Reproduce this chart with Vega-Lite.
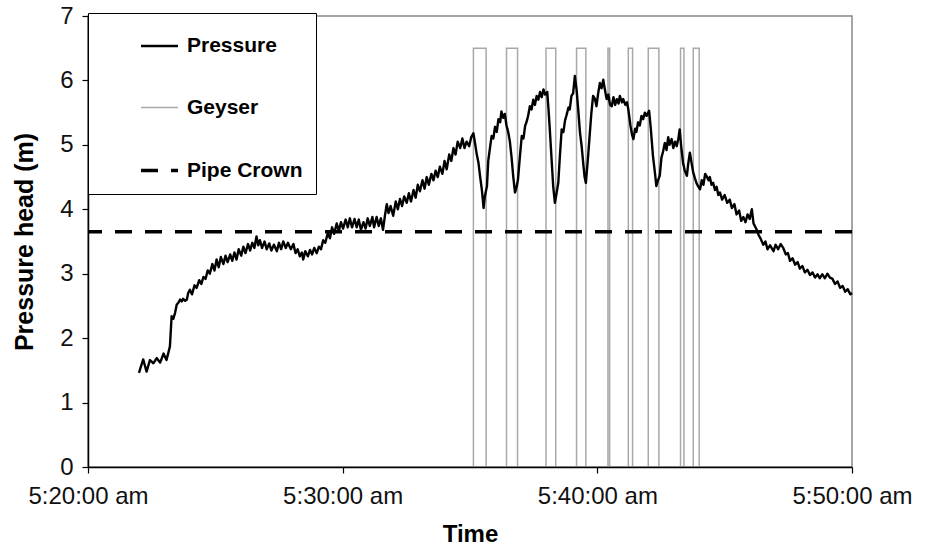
{
  "$schema": "https://vega.github.io/schema/vega-lite/v6.json",
  "width": 764,
  "height": 451,
  "autosize": {"type": "none"},
  "padding": {"left": 88, "top": 16, "right": 73, "bottom": 81},
  "background": "white",
  "config": {
    "font": "Liberation Sans",
    "view": {"stroke": "#888", "strokeWidth": 1.5},
    "axis": {"domainColor": "#000", "domainWidth": 1.5, "tickColor": "#000", "tickWidth": 1.2, "tickSize": 6, "labelColor": "#111", "titleColor": "#000", "grid": false, "labelFont": "Liberation Sans", "titleFont": "Liberation Sans", "titleFontWeight": "bold"}
  },
  "layer": [
    {
      "data": {"values": [
        {"i":0,"t":"05:35:08","g":0},{"i":1,"t":"05:35:08","g":6.5},{"i":2,"t":"05:35:38","g":6.5},{"i":3,"t":"05:35:38","g":0},
        {"i":4,"t":"05:36:26","g":0},{"i":5,"t":"05:36:26","g":6.5},{"i":6,"t":"05:36:52","g":6.5},{"i":7,"t":"05:36:52","g":0},
        {"i":8,"t":"05:37:59","g":0},{"i":9,"t":"05:37:59","g":6.5},{"i":10,"t":"05:38:22","g":6.5},{"i":11,"t":"05:38:22","g":0},
        {"i":12,"t":"05:39:11","g":0},{"i":13,"t":"05:39:11","g":6.5},{"i":14,"t":"05:39:33","g":6.5},{"i":15,"t":"05:39:33","g":0},
        {"i":16,"t":"05:40:25","g":0},{"i":17,"t":"05:40:25","g":6.5},{"i":18,"t":"05:40:29","g":6.5},{"i":19,"t":"05:40:29","g":0},
        {"i":20,"t":"05:41:13","g":0},{"i":21,"t":"05:41:13","g":6.5},{"i":22,"t":"05:41:23","g":6.5},{"i":23,"t":"05:41:23","g":0},
        {"i":24,"t":"05:42:00","g":0},{"i":25,"t":"05:42:00","g":6.5},{"i":26,"t":"05:42:25","g":6.5},{"i":27,"t":"05:42:25","g":0},
        {"i":28,"t":"05:43:16","g":0},{"i":29,"t":"05:43:16","g":6.5},{"i":30,"t":"05:43:24","g":6.5},{"i":31,"t":"05:43:24","g":0},
        {"i":32,"t":"05:43:46","g":0},{"i":33,"t":"05:43:46","g":6.5},{"i":34,"t":"05:44:00","g":6.5},{"i":35,"t":"05:44:00","g":0}
      ], "format": {"parse": {"t": "date:'%H:%M:%S'"}}},
      "mark": {"type": "line", "interpolate": "linear"},
      "encoding": {
        "x": {
          "field": "t", "type": "temporal",
          "scale": {"domain": [{"year": 1900, "month": 1, "date": 1, "hours": 5, "minutes": 20}, {"year": 1900, "month": 1, "date": 1, "hours": 5, "minutes": 50}]},
          "axis": {
            "title": "Time", "titleFontSize": 24, "titlePadding": 14,
            "values": [{"year": 1900, "month": 1, "date": 1, "hours": 5, "minutes": 20}, {"year": 1900, "month": 1, "date": 1, "hours": 5, "minutes": 30}, {"year": 1900, "month": 1, "date": 1, "hours": 5, "minutes": 40}, {"year": 1900, "month": 1, "date": 1, "hours": 5, "minutes": 50}],
            "labelExpr": "timeFormat(datum.value, '%-I:%M:%S') + ' am'",
            "labelFontSize": 24, "labelPadding": 11, "labelFlush": false, "labelOverlap": false, "zindex": 1
          }
        },
        "y": {"field": "g", "type": "quantitative"},
        "order": {"field": "i", "type": "quantitative"},
        "color": {"datum": "Geyser", "type": "nominal"},
        "strokeDash": {"datum": "Geyser", "type": "nominal"},
        "strokeWidth": {"datum": "Geyser", "type": "nominal"}
      }
    },
    {
      "data": {"values": [
        {"t":"05:22:00","p":1.46},{"t":"05:22:10","p":1.67},{"t":"05:22:18","p":1.48},{"t":"05:22:26","p":1.66},{"t":"05:22:34","p":1.61},{"t":"05:22:42","p":1.69},{"t":"05:22:50","p":1.62},{"t":"05:22:58","p":1.76},{"t":"05:23:05","p":1.66},{"t":"05:23:13","p":1.87},{"t":"05:23:17","p":2.34},{"t":"05:23:21","p":2.30},{"t":"05:23:25","p":2.39},{"t":"05:23:29","p":2.52},{"t":"05:23:33","p":2.55},{"t":"05:23:37","p":2.60},{"t":"05:23:41","p":2.57},{"t":"05:23:44","p":2.61},{"t":"05:23:49","p":2.58},{"t":"05:23:53","p":2.60},{"t":"05:23:56","p":2.70},
        {"t":"05:24:00","p":2.75},{"t":"05:24:05","p":2.68},{"t":"05:24:11","p":2.82},{"t":"05:24:16","p":2.78},{"t":"05:24:22","p":2.90},{"t":"05:24:27","p":2.84},{"t":"05:24:32","p":2.95},{"t":"05:24:37","p":2.92},{"t":"05:24:42","p":3.05},{"t":"05:24:47","p":3.00},{"t":"05:24:53","p":3.15},{"t":"05:24:58","p":3.05},
        {"t":"05:25:03","p":3.22},{"t":"05:25:08","p":3.10},{"t":"05:25:13","p":3.26},{"t":"05:25:19","p":3.15},{"t":"05:25:24","p":3.28},{"t":"05:25:29","p":3.18},{"t":"05:25:35","p":3.30},{"t":"05:25:40","p":3.20},{"t":"05:25:45","p":3.33},{"t":"05:25:50","p":3.22},{"t":"05:25:55","p":3.38},
        {"t":"05:26:01","p":3.28},{"t":"05:26:06","p":3.42},{"t":"05:26:11","p":3.32},{"t":"05:26:17","p":3.46},{"t":"05:26:22","p":3.36},{"t":"05:26:27","p":3.48},{"t":"05:26:32","p":3.40},{"t":"05:26:37","p":3.58},{"t":"05:26:41","p":3.44},{"t":"05:26:45","p":3.52},{"t":"05:26:50","p":3.40},{"t":"05:26:56","p":3.50},
        {"t":"05:27:01","p":3.38},{"t":"05:27:07","p":3.47},{"t":"05:27:12","p":3.36},{"t":"05:27:18","p":3.45},{"t":"05:27:25","p":3.35},{"t":"05:27:30","p":3.48},{"t":"05:27:35","p":3.38},{"t":"05:27:40","p":3.50},{"t":"05:27:46","p":3.40},{"t":"05:27:51","p":3.48},{"t":"05:27:58","p":3.38},
        {"t":"05:28:04","p":3.46},{"t":"05:28:09","p":3.32},{"t":"05:28:14","p":3.38},{"t":"05:28:19","p":3.27},{"t":"05:28:24","p":3.33},{"t":"05:28:27","p":3.22},{"t":"05:28:32","p":3.35},{"t":"05:28:38","p":3.27},{"t":"05:28:43","p":3.37},{"t":"05:28:48","p":3.30},{"t":"05:28:53","p":3.40},{"t":"05:28:59","p":3.32},
        {"t":"05:29:04","p":3.42},{"t":"05:29:09","p":3.38},{"t":"05:29:14","p":3.52},{"t":"05:29:19","p":3.48},{"t":"05:29:25","p":3.63},{"t":"05:29:30","p":3.55},{"t":"05:29:35","p":3.72},{"t":"05:29:40","p":3.62},{"t":"05:29:46","p":3.78},{"t":"05:29:51","p":3.66},{"t":"05:29:56","p":3.80},
        {"t":"05:30:01","p":3.70},{"t":"05:30:07","p":3.84},{"t":"05:30:12","p":3.72},{"t":"05:30:17","p":3.86},{"t":"05:30:22","p":3.72},{"t":"05:30:28","p":3.85},{"t":"05:30:33","p":3.72},{"t":"05:30:38","p":3.84},{"t":"05:30:43","p":3.68},{"t":"05:30:49","p":3.80},{"t":"05:30:54","p":3.70},{"t":"05:30:59","p":3.86},
        {"t":"05:31:04","p":3.74},{"t":"05:31:10","p":3.88},{"t":"05:31:14","p":3.72},{"t":"05:31:20","p":3.88},{"t":"05:31:25","p":3.74},{"t":"05:31:30","p":3.86},{"t":"05:31:35","p":3.68},{"t":"05:31:40","p":3.92},{"t":"05:31:44","p":4.08},{"t":"05:31:48","p":3.94},{"t":"05:31:53","p":4.05},{"t":"05:31:59","p":3.90},
        {"t":"05:32:05","p":4.12},{"t":"05:32:10","p":4.00},{"t":"05:32:15","p":4.16},{"t":"05:32:20","p":4.05},{"t":"05:32:25","p":4.20},{"t":"05:32:31","p":4.10},{"t":"05:32:36","p":4.25},{"t":"05:32:41","p":4.12},{"t":"05:32:47","p":4.30},{"t":"05:32:52","p":4.18},{"t":"05:32:57","p":4.38},
        {"t":"05:33:02","p":4.28},{"t":"05:33:08","p":4.45},{"t":"05:33:13","p":4.32},{"t":"05:33:18","p":4.50},{"t":"05:33:23","p":4.38},{"t":"05:33:29","p":4.55},{"t":"05:33:34","p":4.45},{"t":"05:33:39","p":4.60},{"t":"05:33:44","p":4.50},{"t":"05:33:49","p":4.66},{"t":"05:33:55","p":4.55},
        {"t":"05:34:00","p":4.75},{"t":"05:34:05","p":4.62},{"t":"05:34:11","p":4.85},{"t":"05:34:16","p":4.75},{"t":"05:34:21","p":4.95},{"t":"05:34:26","p":4.85},{"t":"05:34:31","p":5.05},{"t":"05:34:37","p":4.95},{"t":"05:34:42","p":5.10},{"t":"05:34:47","p":4.95},{"t":"05:34:52","p":5.05},{"t":"05:34:58","p":4.98},
        {"t":"05:35:03","p":5.12},{"t":"05:35:08","p":5.18},{"t":"05:35:12","p":5.02},{"t":"05:35:16","p":4.85},{"t":"05:35:20","p":4.72},{"t":"05:35:24","p":4.50},{"t":"05:35:28","p":4.30},{"t":"05:35:32","p":4.02},{"t":"05:35:35","p":4.20},{"t":"05:35:40","p":4.36},{"t":"05:35:43","p":4.75},{"t":"05:35:47","p":4.95},{"t":"05:35:51","p":5.14},{"t":"05:35:55","p":5.10},{"t":"05:35:59","p":5.28},
        {"t":"05:36:03","p":5.20},{"t":"05:36:07","p":5.40},{"t":"05:36:11","p":5.35},{"t":"05:36:14","p":5.52},{"t":"05:36:18","p":5.42},{"t":"05:36:22","p":5.48},{"t":"05:36:26","p":5.30},{"t":"05:36:30","p":5.20},{"t":"05:36:34","p":5.05},{"t":"05:36:38","p":4.80},{"t":"05:36:42","p":4.50},{"t":"05:36:46","p":4.26},{"t":"05:36:50","p":4.35},{"t":"05:36:53","p":4.46},{"t":"05:36:58","p":4.85},
        {"t":"05:37:02","p":5.14},{"t":"05:37:06","p":5.10},{"t":"05:37:10","p":5.30},{"t":"05:37:13","p":5.35},{"t":"05:37:17","p":5.45},{"t":"05:37:21","p":5.60},{"t":"05:37:25","p":5.55},{"t":"05:37:29","p":5.70},{"t":"05:37:33","p":5.62},{"t":"05:37:37","p":5.76},{"t":"05:37:41","p":5.70},{"t":"05:37:45","p":5.82},{"t":"05:37:49","p":5.74},{"t":"05:37:53","p":5.86},{"t":"05:37:57","p":5.78},
        {"t":"05:38:02","p":5.82},{"t":"05:38:05","p":5.55},{"t":"05:38:08","p":5.24},{"t":"05:38:12","p":4.80},{"t":"05:38:16","p":4.36},{"t":"05:38:20","p":4.10},{"t":"05:38:24","p":4.25},{"t":"05:38:28","p":4.41},{"t":"05:38:32","p":4.85},{"t":"05:38:36","p":5.24},{"t":"05:38:40","p":5.20},{"t":"05:38:44","p":5.38},{"t":"05:38:47","p":5.45},{"t":"05:38:52","p":5.58},{"t":"05:38:55","p":5.55},{"t":"05:38:59","p":5.76},
        {"t":"05:39:03","p":5.80},{"t":"05:39:07","p":6.07},{"t":"05:39:11","p":5.86},{"t":"05:39:15","p":5.55},{"t":"05:39:19","p":5.20},{"t":"05:39:23","p":4.98},{"t":"05:39:27","p":4.70},{"t":"05:39:30","p":4.50},{"t":"05:39:33","p":4.41},{"t":"05:39:38","p":4.80},{"t":"05:39:43","p":5.24},{"t":"05:39:46","p":5.50},{"t":"05:39:50","p":5.76},{"t":"05:39:54","p":5.72},{"t":"05:39:58","p":5.60},
        {"t":"05:40:02","p":5.80},{"t":"05:40:06","p":5.96},{"t":"05:40:10","p":5.88},{"t":"05:40:14","p":6.01},{"t":"05:40:18","p":5.85},{"t":"05:40:22","p":5.71},{"t":"05:40:26","p":5.78},{"t":"05:40:30","p":5.62},{"t":"05:40:34","p":5.60},{"t":"05:40:38","p":5.74},{"t":"05:40:42","p":5.62},{"t":"05:40:46","p":5.71},{"t":"05:40:50","p":5.64},{"t":"05:40:53","p":5.76},{"t":"05:40:58","p":5.66},
        {"t":"05:41:01","p":5.71},{"t":"05:41:06","p":5.62},{"t":"05:41:10","p":5.66},{"t":"05:41:13","p":5.55},{"t":"05:41:18","p":5.30},{"t":"05:41:22","p":5.15},{"t":"05:41:25","p":5.09},{"t":"05:41:29","p":5.25},{"t":"05:41:32","p":5.20},{"t":"05:41:36","p":5.35},{"t":"05:41:40","p":5.30},{"t":"05:41:44","p":5.45},{"t":"05:41:48","p":5.40},{"t":"05:41:52","p":5.50},{"t":"05:41:56","p":5.45},
        {"t":"05:42:02","p":5.53},{"t":"05:42:06","p":5.25},{"t":"05:42:11","p":4.83},{"t":"05:42:16","p":4.55},{"t":"05:42:19","p":4.36},{"t":"05:42:23","p":4.45},{"t":"05:42:27","p":4.52},{"t":"05:42:31","p":4.80},{"t":"05:42:35","p":4.90},{"t":"05:42:39","p":5.03},{"t":"05:42:43","p":4.92},{"t":"05:42:47","p":5.12},{"t":"05:42:50","p":5.00},{"t":"05:42:55","p":5.09},{"t":"05:42:59","p":4.95},
        {"t":"05:43:03","p":5.05},{"t":"05:43:07","p":4.98},{"t":"05:43:11","p":5.10},{"t":"05:43:14","p":5.24},{"t":"05:43:18","p":4.95},{"t":"05:43:22","p":4.72},{"t":"05:43:26","p":4.60},{"t":"05:43:31","p":4.52},{"t":"05:43:34","p":4.70},{"t":"05:43:38","p":4.88},{"t":"05:43:42","p":4.72},{"t":"05:43:46","p":4.57},{"t":"05:43:50","p":4.48},{"t":"05:43:54","p":4.40},{"t":"05:43:58","p":4.35},
        {"t":"05:44:02","p":4.31},{"t":"05:44:06","p":4.45},{"t":"05:44:10","p":4.38},{"t":"05:44:14","p":4.55},{"t":"05:44:17","p":4.52},{"t":"05:44:22","p":4.45},{"t":"05:44:25","p":4.50},{"t":"05:44:29","p":4.38},{"t":"05:44:33","p":4.41},{"t":"05:44:37","p":4.30},{"t":"05:44:41","p":4.35},{"t":"05:44:45","p":4.22},{"t":"05:44:49","p":4.26},{"t":"05:44:54","p":4.15},
        {"t":"05:45:00","p":4.22},{"t":"05:45:06","p":4.10},{"t":"05:45:12","p":4.15},{"t":"05:45:17","p":4.02},{"t":"05:45:23","p":4.08},{"t":"05:45:28","p":3.92},{"t":"05:45:34","p":3.98},{"t":"05:45:39","p":3.82},{"t":"05:45:44","p":3.88},{"t":"05:45:49","p":3.80},{"t":"05:45:54","p":3.92},{"t":"05:45:59","p":3.85},
        {"t":"05:46:04","p":4.00},{"t":"05:46:08","p":3.78},{"t":"05:46:15","p":3.69},{"t":"05:46:20","p":3.60},{"t":"05:46:25","p":3.54},{"t":"05:46:31","p":3.45},{"t":"05:46:36","p":3.50},{"t":"05:46:41","p":3.38},{"t":"05:46:47","p":3.44},{"t":"05:46:55","p":3.35},
        {"t":"05:47:00","p":3.45},{"t":"05:47:06","p":3.38},{"t":"05:47:12","p":3.46},{"t":"05:47:18","p":3.40},{"t":"05:47:24","p":3.30},{"t":"05:47:29","p":3.32},{"t":"05:47:34","p":3.20},{"t":"05:47:40","p":3.24},{"t":"05:47:46","p":3.14},{"t":"05:47:52","p":3.18},{"t":"05:47:57","p":3.08},
        {"t":"05:48:03","p":3.12},{"t":"05:48:09","p":3.02},{"t":"05:48:15","p":3.06},{"t":"05:48:21","p":2.98},{"t":"05:48:27","p":3.02},{"t":"05:48:33","p":2.94},{"t":"05:48:39","p":2.99},{"t":"05:48:44","p":2.93},{"t":"05:48:50","p":2.99},{"t":"05:48:56","p":2.93},
        {"t":"05:49:02","p":3.00},{"t":"05:49:08","p":2.94},{"t":"05:49:14","p":2.92},{"t":"05:49:20","p":2.84},{"t":"05:49:26","p":2.88},{"t":"05:49:32","p":2.78},{"t":"05:49:38","p":2.81},{"t":"05:49:44","p":2.72},{"t":"05:49:50","p":2.76},{"t":"05:49:56","p":2.68},{"t":"05:50:00","p":2.70}
      ], "format": {"parse": {"t": "date:'%H:%M:%S'"}}},
      "mark": {"type": "line", "strokeJoin": "round"},
      "encoding": {
        "x": {"field": "t", "type": "temporal"},
        "y": {"field": "p", "type": "quantitative"},
        "color": {"datum": "Pressure", "type": "nominal"},
        "strokeDash": {"datum": "Pressure", "type": "nominal"},
        "strokeWidth": {"datum": "Pressure", "type": "nominal"}
      }
    },
    {
      "data": {"values": [{"crown": 3.65}]},
      "mark": {"type": "rule"},
      "encoding": {
        "y": {"field": "crown", "type": "quantitative"},
        "color": {"datum": "Pipe Crown", "type": "nominal"},
        "strokeDash": {"datum": "Pipe Crown", "type": "nominal"},
        "strokeWidth": {"datum": "Pipe Crown", "type": "nominal"}
      }
    }
  ],
  "encoding": {
    "y": {
      "type": "quantitative",
      "scale": {"domain": [0, 7], "nice": false},
      "axis": {"title": "Pressure head (m)", "titleFontSize": 25, "titlePadding": 22, "values": [0, 1, 2, 3, 4, 5, 6, 7], "labelFontSize": 24, "labelPadding": 9}
    },
    "color": {
      "type": "nominal",
      "scale": {"domain": ["Pressure", "Geyser", "Pipe Crown"], "range": ["#000000", "#a8a8a8", "#000000"]},
      "legend": {"title": null, "orient": "none", "legendX": 0, "legendY": -3, "symbolType": "stroke", "symbolSize": 1369, "labelFontSize": 21, "labelFontWeight": "bold", "labelColor": "#000", "labelFont": "Liberation Sans", "rowPadding": 32, "padding": 13, "strokeColor": "#000", "fillColor": "#fff", "symbolOffset": 38, "labelOffset": 7, "labelLimit": 300}
    },
    "strokeDash": {
      "type": "nominal",
      "scale": {"domain": ["Pressure", "Geyser", "Pipe Crown"], "range": [[1, 0], [1, 0], [17, 13]]},
      "legend": {"title": null}
    },
    "strokeWidth": {
      "type": "nominal",
      "scale": {"type": "ordinal", "domain": ["Pressure", "Geyser", "Pipe Crown"], "range": [2.4, 1.5, 3.5]},
      "legend": {"title": null}
    }
  }
}
